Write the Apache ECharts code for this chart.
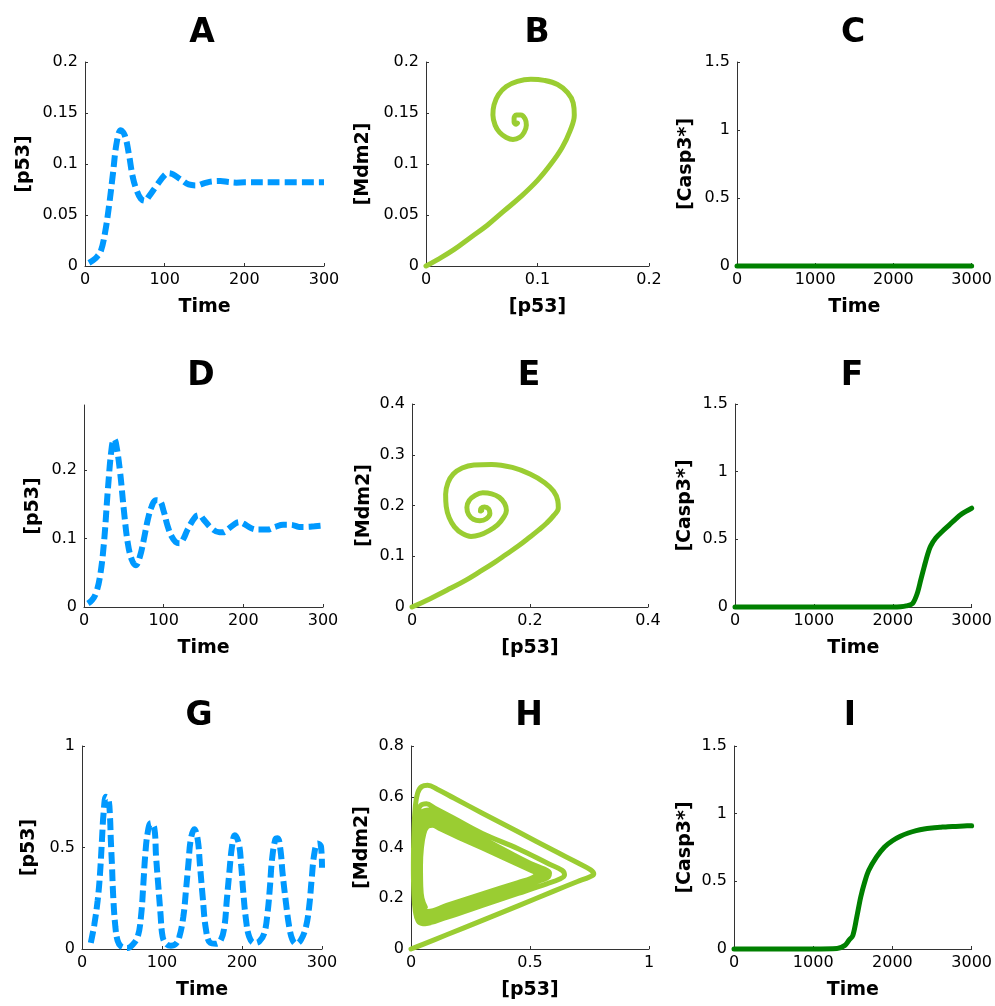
<!DOCTYPE html>
<html><head><meta charset="utf-8">
<script src="https://cdn.jsdelivr.net/npm/echarts@6/dist/echarts.min.js"></script>
<style>html,body{margin:0;padding:0;background:#fff}#c{width:995px;height:1006px}</style>
</head><body><div id="c"></div>
<script>
// ---------- Data ----------
// Panel A: p53 vs Time
const tA = [5,10,15,20,25,30,35,40,45,50,55,60,65,70,75,80,90,100,105,110,120,130,140,150,160,170,180,190,200,250,300];
const p53A = [0.003,0.0055,0.009,0.015,0.032,0.058,0.09,0.122,0.133,0.128,0.11,0.087,0.074,0.066,0.064,0.068,0.079,0.089,0.091,0.09,0.085,0.08,0.079,0.0813,0.083,0.0833,0.0823,0.0817,0.082,0.082,0.082];
// Panel B: Mdm2 vs p53 (phase)
const phaseB = [[0,0],[0.01,0.006],[0.025,0.016],[0.04,0.028],[0.055,0.04],[0.07,0.054],[0.085,0.068],[0.1,0.084],[0.112,0.1],[0.122,0.116],[0.129,0.132],[0.133,0.148],[0.132,0.16],[0.127,0.17],[0.118,0.178],[0.106,0.182],[0.094,0.183],[0.082,0.181],[0.072,0.176],[0.065,0.168],[0.061,0.158],[0.06,0.148],[0.062,0.138],[0.066,0.131],[0.072,0.126],[0.078,0.124],[0.084,0.126],[0.088,0.131],[0.09,0.138],[0.089,0.144],[0.085,0.148],[0.081,0.148],[0.079,0.145],[0.079,0.141],[0.081,0.139],[0.082,0.14]];
// Panel C: Casp3* vs Time
const tC = [0,1000,2000,3000];
const caspC = [0,0,0,0];
// Panel D
const tD = [5,10,15,20,25,30,35,38,40,45,50,55,60,65,70,75,80,85,90,95,100,105,110,115,120,125,130,140,145,150,160,170,175,180,190,195,200,210,220,230,240,250,260,270,280,290,300];
const p53D = [0.005,0.01,0.02,0.044,0.093,0.172,0.235,0.245,0.24,0.2,0.142,0.093,0.069,0.061,0.073,0.098,0.127,0.147,0.156,0.155,0.14,0.118,0.103,0.095,0.093,0.1,0.113,0.132,0.134,0.128,0.115,0.109,0.109,0.113,0.122,0.124,0.122,0.115,0.113,0.113,0.117,0.12,0.12,0.117,0.117,0.118,0.119];
// Panel E
const phaseE = [[0,0],[0.03,0.016],[0.059,0.033],[0.09,0.052],[0.1155,0.07],[0.14,0.088],[0.16,0.104],[0.18,0.12],[0.2,0.138],[0.215,0.152],[0.228,0.165],[0.24,0.18],[0.248,0.195],[0.247,0.21],[0.24,0.228],[0.225,0.245],[0.2,0.262],[0.17,0.275],[0.135,0.281],[0.105,0.28],[0.085,0.274],[0.07,0.262],[0.061,0.245],[0.057,0.222],[0.058,0.198],[0.063,0.176],[0.072,0.158],[0.085,0.145],[0.1,0.139],[0.115,0.142],[0.13,0.15],[0.145,0.162],[0.155,0.176],[0.16,0.19],[0.157,0.204],[0.148,0.216],[0.135,0.223],[0.12,0.225],[0.107,0.22],[0.097,0.21],[0.093,0.196],[0.096,0.182],[0.104,0.173],[0.115,0.17],[0.126,0.174],[0.132,0.184],[0.13,0.193],[0.123,0.197],[0.117,0.194],[0.116,0.189],[0.118,0.19]];
// Panel F
const tF = [0,500,1000,1500,2000,2100,2170,2250,2310,2355,2400,2440,2480,2545,2630,2715,2800,2880,3000];
const caspF = [0,0,0,0,0,0.002,0.008,0.025,0.1,0.2,0.3,0.385,0.45,0.51,0.56,0.605,0.652,0.69,0.73];
// Panel G
const tG = [11,15.4,19.6,22.5,25,27,30,33,35,36,37.5,39,41.7,44.6,48.75,57,63,69.6,73.75,76.7,79,82,86,90.4,92.5,95.4,98,100.8,105,111,117.5,121.7,126.7,130,133,136,140.4,144.6,147.5,150.8,155,160.4,167.5,173.75,178,181,184,187.5,191,196,199,201.7,205,209,215,221.7,228,232,235,237.5,241.7,244.6,248,250.8,255,259,263,267.5,273.75,280,284,287,290.4,294.6,298.75,300];
const p53G = [0.03,0.12,0.24,0.37,0.54,0.67,0.75,0.74,0.65,0.54,0.41,0.26,0.11,0.04,0.013,0.005,0.02,0.06,0.16,0.32,0.46,0.57,0.62,0.595,0.46,0.31,0.18,0.06,0.026,0.016,0.026,0.06,0.16,0.29,0.42,0.54,0.59,0.54,0.41,0.26,0.095,0.03,0.026,0.046,0.11,0.24,0.37,0.505,0.56,0.52,0.41,0.275,0.144,0.06,0.03,0.038,0.08,0.18,0.31,0.44,0.54,0.546,0.49,0.37,0.226,0.11,0.046,0.026,0.046,0.11,0.21,0.34,0.47,0.52,0.505,0.4];
// Panel H: trajectory loops
const loopH1 = [[0,0],[0.05,0.018],[0.15,0.056],[0.3,0.113],[0.45,0.17],[0.6,0.228],[0.7,0.266],[0.75,0.284],[0.768,0.296],[0.755,0.312],[0.7,0.34],[0.6,0.388],[0.45,0.462],[0.3,0.535],[0.18,0.595],[0.11,0.63],[0.07,0.645],[0.045,0.64],[0.028,0.615],[0.018,0.56],[0.012,0.45],[0.01,0.33],[0.012,0.22],[0.018,0.15],[0.03,0.11]];
const loopH2 = [[0.05,0.1],[0.15,0.125],[0.3,0.172],[0.45,0.219],[0.57,0.257],[0.625,0.276],[0.645,0.292],[0.635,0.31],[0.58,0.335],[0.45,0.395],[0.3,0.455],[0.18,0.515],[0.1,0.555],[0.065,0.572],[0.04,0.565],[0.025,0.53],[0.016,0.45],[0.013,0.33],[0.015,0.22],[0.022,0.15],[0.04,0.115]];
const loopH3 = [[0.06,0.1],[0.15,0.132],[0.3,0.185],[0.45,0.238],[0.55,0.272],[0.578,0.285],[0.582,0.3],[0.56,0.315],[0.5,0.338],[0.4,0.386],[0.3,0.436],[0.2,0.486],[0.12,0.527],[0.075,0.548],[0.045,0.54],[0.027,0.51],[0.016,0.44],[0.012,0.33],[0.013,0.22],[0.018,0.15],[0.03,0.118]];
const loopH4 = [[0.06,0.11],[0.15,0.141],[0.3,0.192],[0.45,0.244],[0.54,0.275],[0.565,0.286],[0.568,0.3],[0.548,0.314],[0.5,0.334],[0.4,0.381],[0.3,0.428],[0.2,0.475],[0.12,0.513],[0.078,0.532],[0.05,0.524],[0.033,0.495],[0.022,0.43],[0.018,0.33],[0.019,0.23],[0.024,0.165],[0.038,0.128]];
const loopH5 = [[0.06,0.122],[0.15,0.152],[0.3,0.201],[0.45,0.25],[0.53,0.277],[0.55,0.287],[0.553,0.3],[0.535,0.313],[0.5,0.327],[0.4,0.372],[0.3,0.418],[0.2,0.464],[0.12,0.5],[0.082,0.517],[0.056,0.51],[0.04,0.48],[0.029,0.42],[0.025,0.33],[0.026,0.24],[0.031,0.178],[0.045,0.14]];
const loopH6 = [[0.065,0.135],[0.15,0.162],[0.3,0.209],[0.45,0.257],[0.515,0.278],[0.535,0.288],[0.538,0.3],[0.52,0.311],[0.5,0.319],[0.4,0.363],[0.3,0.408],[0.2,0.452],[0.12,0.488],[0.088,0.502],[0.062,0.496],[0.047,0.468],[0.036,0.41],[0.032,0.33],[0.033,0.245],[0.038,0.19],[0.052,0.152]];
const loopH7 = [[0.07,0.148],[0.15,0.172],[0.3,0.217],[0.45,0.262],[0.505,0.279],[0.522,0.289],[0.524,0.3],[0.51,0.307],[0.4,0.355],[0.3,0.398],[0.2,0.44],[0.12,0.475],[0.09,0.488],[0.068,0.482],[0.054,0.455],[0.044,0.4],[0.04,0.33],[0.041,0.25],[0.046,0.2],[0.06,0.165]];
// Panel I
const tI = [0,500,1000,1300,1400,1450,1500,1550,1600,1650,1700,1800,1900,2000,2100,2200,2300,2400,2500,2600,2700,2800,2900,3000];
const caspI = [0,0,0,0.003,0.027,0.064,0.1,0.236,0.384,0.495,0.58,0.68,0.754,0.8,0.833,0.857,0.875,0.887,0.894,0.899,0.904,0.906,0.909,0.911];

// Tick values for D's y axis (upper limit has no label)
const ticksD = [0,0.1,0.2];
const panelLetters = ['A','B','C','D','E','F','G','H','I'];

// ---------- Build ----------
const zip = (a, b) => a.map((v, i) => [v, b[i]]);
const phaseH = [].concat(loopH1, loopH2, loopH3, loopH4, loopH5, loopH6, loopH7);

const FONT = 'DejaVu Sans';
const BLUE = '#0099ff', LGREEN = '#9acd32', DGREEN = '#008000';
const AX = '#333333';
const fmt = v => String(parseFloat(Number(v).toFixed(6)));

const panels = [
  {g:{left:85,top:62,width:239,height:204}, x:{min:0,max:300,interval:100,name:'Time'}, y:{min:0,max:0.2,interval:0.05,name:'[p53]',gap:51}, data:zip(tA,p53A), kind:'blue', title:[202,33]},
  {g:{left:426,top:62,width:223,height:204}, x:{min:0,max:0.2,interval:0.1,name:'[p53]'}, y:{min:0,max:0.2,interval:0.05,name:'[Mdm2]',gap:53}, data:phaseB, kind:'lgreen', title:[537,33]},
  {g:{left:737,top:62,width:235,height:204}, x:{min:0,max:3000,interval:1000,name:'Time'}, y:{min:0,max:1.5,interval:0.5,name:'[Casp3*]',gap:41}, data:zip(tC,caspC), kind:'dgreen', title:[853,33]},
  {g:{left:84,top:405,width:239,height:202}, x:{min:0,max:300,interval:100,name:'Time'}, y:{min:0,max:0.295,interval:0.1,name:'[p53]',gap:41,custom:ticksD}, data:zip(tD,p53D), kind:'blue', title:[201,376]},
  {g:{left:412,top:404,width:236,height:203}, x:{min:0,max:0.4,interval:0.2,name:'[p53]'}, y:{min:0,max:0.4,interval:0.1,name:'[Mdm2]',gap:38}, data:phaseE, kind:'lgreen', title:[529,376]},
  {g:{left:735,top:404,width:238,height:203}, x:{min:0,max:3000,interval:1000,name:'Time'}, y:{min:0,max:1.5,interval:0.5,name:'[Casp3*]',gap:40}, data:zip(tF,caspF), kind:'dgreen', title:[852,376]},
  {g:{left:82,top:746,width:240,height:203}, x:{min:0,max:300,interval:100,name:'Time'}, y:{min:0,max:1,interval:0.5,name:'[p53]',gap:43}, data:zip(tG,p53G), kind:'blue', title:[199,716]},
  {g:{left:411,top:746,width:238,height:203}, x:{min:0,max:1,interval:0.5,name:'[p53]'}, y:{min:0,max:0.8,interval:0.2,name:'[Mdm2]',gap:39}, data:phaseH, kind:'lgreen', title:[529,716]},
  {g:{left:734,top:746,width:238,height:203}, x:{min:0,max:3000,interval:1000,name:'Time'}, y:{min:0,max:1.5,interval:0.5,name:'[Casp3*]',gap:39}, data:zip(tI,caspI), kind:'dgreen', title:[850,716]}
];

const labelStyle = {color:'#000', fontSize:16, fontFamily:FONT};
const nameStyle = {color:'#000', fontSize:19, fontWeight:'bold', fontFamily:FONT};

const grid = [], xAxis = [], yAxis = [], series = [], graphic = [];
panels.forEach((p, i) => {
  grid.push(Object.assign({containLabel:false}, p.g));
  xAxis.push({
    type:'value', gridIndex:i, min:p.x.min, max:p.x.max, interval:p.x.interval,
    name:p.x.name, nameLocation:'middle', nameGap:32, nameTextStyle:nameStyle,
    axisLine:{show:true, onZero:false, lineStyle:{color:AX, width:1}},
    axisTick:{show:true, inside:true, length:3, lineStyle:{color:AX}},
    axisLabel:Object.assign({margin:6, formatter:fmt}, labelStyle),
    splitLine:{show:false}
  });
  const ya = {
    type:'value', gridIndex:i, min:p.y.min, max:p.y.max, interval:p.y.interval,
    name:p.y.name, nameLocation:'middle', nameGap:p.y.gap, nameTextStyle:nameStyle,
    axisLine:{show:true, onZero:false, lineStyle:{color:AX, width:1}},
    axisTick:{show:true, inside:true, length:3, lineStyle:{color:AX}},
    axisLabel:Object.assign({margin:7, formatter:fmt}, labelStyle),
    splitLine:{show:false}
  };
  if (p.y.custom) {
    ya.axisLabel.customValues = p.y.custom;
    ya.axisTick.customValues = p.y.custom;
    ya.axisLabel.formatter = v => (p.y.custom.some(c => Math.abs(c - v) < 1e-9) ? fmt(v) : '');
  }
  yAxis.push(ya);
  let ls;
  if (p.kind === 'blue') ls = {color:BLUE, width:6, type:[12,5], cap:'butt'};
  else if (p.kind === 'lgreen') ls = {color:LGREEN, width:5, cap:'round', join:'round'};
  else ls = {color:DGREEN, width:5, cap:'round', join:'round'};
  series.push({
    type:'line', xAxisIndex:i, yAxisIndex:i, data:p.data,
    showSymbol:false, symbol:'none', clip:false,
    smooth: p.kind === 'dgreen' ? 0.3 : 0.4,
    lineStyle:ls, emphasis:{disabled:true}, silent:true
  });
  graphic.push({
    type:'text', x:p.title[0], y:p.title[1], silent:true,
    style:{text:panelLetters[i], fill:'#000', font:'bold 33px "DejaVu Sans"',
           textAlign:'center', textVerticalAlign:'middle', align:'center', verticalAlign:'middle'}
  });
});

const chart = echarts.init(document.getElementById('c'), null, {renderer:'canvas'});
chart.setOption({
  animation:false,
  backgroundColor:'#fff',
  grid, xAxis, yAxis, series, graphic
});
</script>
</body></html>
